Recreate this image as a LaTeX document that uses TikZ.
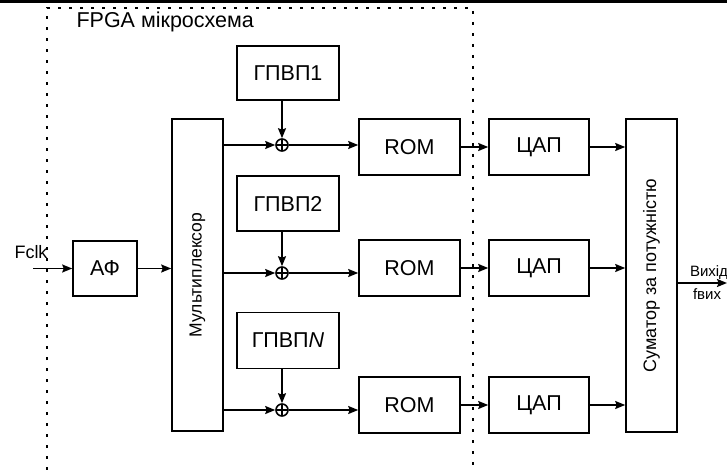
\documentclass[tikz,border=0pt]{standalone}
\usepackage{fontspec}
\setmainfont{Liberation Sans}
\usetikzlibrary{arrows.meta}
\begin{document}
\begin{tikzpicture}[x=1pt, y=-1pt, >={Stealth[length=10pt, width=8pt, inset=1.5pt]},
  every node/.style={font=\fontsize{21.5}{25}\selectfont},
  blk/.style={draw, line width=1.6pt, inner sep=0pt, minimum width=101pt, minimum height=56pt},
  tallblk/.style={draw, line width=1.6pt, inner sep=0pt, minimum width=51pt, minimum height=312pt},
  adder/.style={draw, circle, line width=1.6pt, inner sep=0pt, minimum size=12pt,
    path picture={\draw[line width=1.6pt] (path picture bounding box.north) -- (path picture bounding box.south)
      (path picture bounding box.west) -- (path picture bounding box.east);}},
  conn/.style={->, line width=1.6pt}]
\useasboundingbox (0,0) rectangle (727,470);
\fill (0,0) rectangle (727,3);
% FPGA frame
\draw[line width=2pt, dash pattern=on 3pt off 8pt] (47,470) |- (473,8) -- (473,470);
\node[anchor=west] (fpga) at (73,22) {FPGA мікросхема};
% input part
\coordinate (fclkin) at (33,268.5);
\node[font=\fontsize{18}{21}\selectfont] (fclk) at (31,252) {Fclk};
\node[blk, minimum width=64pt, minimum height=55pt] (af) at (105,268.5) {АФ};
\node[tallblk] (mux) at (197.5,275) {};
\node[rotate=90, font=\fontsize{17.5}{21}\selectfont] (muxtxt) at (mux.center) {Мультиплексор};
% generators
\node[blk, minimum width=102pt, minimum height=54pt] (gen1) at (288,73) {ГПВП1};
\node[blk, minimum width=102pt, minimum height=55pt] (gen2) at (288,203.5) {ГПВП2};
\node[blk, minimum width=102pt, minimum height=56pt] (gen3) at (288,340.5) {ГПВП\textit{N}};
% adders
\node[adder] (add1) at (282,145) {};
\node[adder] (add2) at (282,273) {};
\node[adder] (add3) at (282,410) {};
% ROM and DAC
\node[blk] (rom1) at (409.5,147) {ROM};
\node[blk] (rom2) at (409.5,268) {ROM};
\node[blk] (rom3) at (409.5,405) {ROM};
\node[blk, minimum width=100pt] (dac1) at (539,147) {ЦАП};
\node[blk, minimum width=100pt] (dac2) at (539,268) {ЦАП};
\node[blk, minimum width=100pt] (dac3) at (539,405) {ЦАП};
% power combiner
\node[tallblk, minimum height=313pt] (sum) at (651.5,275.5) {};
\node[rotate=90, font=\fontsize{18}{21}\selectfont] (sumtxt) at (sum.center) {Суматор за потужністю};
\coordinate (out) at (727,283);
\node[font=\fontsize{15}{17}\selectfont] (outtxt) at (709,273) {Вихід};
\node[font=\fontsize{15}{17}\selectfont] (fout) at (707,294) {fвих};
% connectors
\draw[conn] (fclkin) -- (af);
\draw[conn] (af) -- (af -| mux.west);
\foreach \i in {1,2,3} {
  \draw[conn] (gen\i.south -| add\i) -- (add\i);
  \draw[conn] (add\i -| mux.east) -- (add\i);
  \draw[conn] (add\i) -- (add\i -| rom\i.west);
  \draw[conn] (rom\i) -- (dac\i);
  \draw[conn] (dac\i) -- (dac\i -| sum.west);
}
\draw[conn] (sum.east |- out) -- (out);
\end{tikzpicture}
\end{document}
